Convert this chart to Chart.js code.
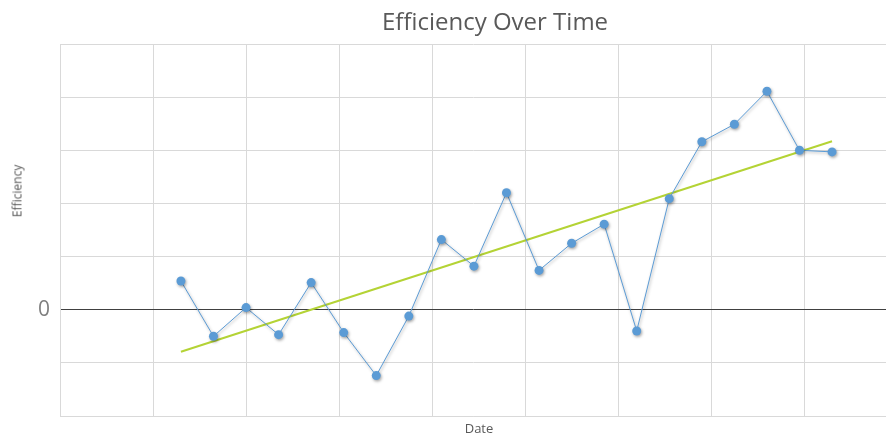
<!DOCTYPE html>
<html>
<head>
<meta charset="utf-8">
<script src="https://cdn.jsdelivr.net/npm/chart.js@4.4.1/dist/chart.umd.min.js"></script>
<style>
  html, body { margin: 0; padding: 0; background: #fff; overflow: hidden; }
  #wrap { position: relative; width: 886px; height: 438px; font-family: 'Open Sans', sans-serif; color: #595959; }
  #chart { display: block; }
  #title { position: absolute; left: 495px; top: 4px; transform: translateX(-50%); font-size: 24px; white-space: nowrap; }
  #ytitle { position: absolute; left: 17px; top: 191px; transform: translate(-50%, -50%) rotate(-90deg); font-size: 12px; white-space: nowrap; }
  #xtitle { position: absolute; left: 479px; top: 428px; transform: translate(-50%, -50%); font-size: 13px; white-space: nowrap; }
</style>
</head>
<body>
<div id="wrap">
  <canvas id="chart" width="886" height="438"></canvas>
  <div id="title">Efficiency Over Time</div>
  <div id="ytitle">Efficiency</div>
  <div id="xtitle">Date</div>
</div>
<script>
// days since axis start, one point a week
const dayX = [26, 33, 40, 47, 54, 61, 68, 75, 82, 89, 96, 103, 110, 117, 124, 131, 138, 145, 152, 159, 166]
const efficiency = [0.54, -0.50, 0.04, -0.47, 0.51, -0.43, -1.24, -0.12, 1.32, 0.82, 2.20, 0.74, 1.25, 1.61, -0.40, 2.09, 3.16, 3.49, 4.11, 3.00, 2.97]
// trend line ends
const trendX = [26, 166]
const trendY = [-0.79, 3.17]

const pointShadow = {
  id: 'pointShadow',
  beforeDatasetDraw(chart, args) {
    if (args.index !== 0) return
    const ctx = chart.ctx
    ctx.save()
    ctx.shadowColor = 'rgba(0,0,0,0.35)'
    ctx.shadowBlur = 3
    ctx.shadowOffsetX = 1
    ctx.shadowOffsetY = 1.5
  },
  afterDatasetDraw(chart, args) {
    if (args.index !== 0) return
    chart.ctx.restore()
  }
}

new Chart(document.getElementById('chart'), {
  type: 'scatter',
  data: {
    datasets: [{
      data: dayX.map((x, i) => ({ x: x, y: efficiency[i] })),
      showLine: true,
      borderColor: '#5b9bd5',
      backgroundColor: '#5b9bd5',
      borderWidth: 1,
      pointRadius: 4.5,
      pointBorderWidth: 0
    }, {
      data: trendX.map((x, i) => ({ x: x, y: trendY[i] })),
      showLine: true,
      borderColor: '#b4d335',
      borderWidth: 2,
      pointRadius: 0
    }]
  },
  options: {
    responsive: false,
    animation: false,
    layout: { autoPadding: false, padding: { top: 44, right: 0, bottom: 0, left: 0 } },
    plugins: { legend: { display: false }, tooltip: { enabled: false } },
    scales: {
      x: {
        type: 'linear',
        min: 0,
        max: 177.6,
        ticks: { stepSize: 20, display: false, includeBounds: false },
        grid: { color: '#d9d9d9', drawTicks: false },
        border: { color: '#d9d9d9' },
        afterFit(scale) {
          scale.height = 22
          scale.paddingLeft = 0
          scale.paddingRight = 0
        }
      },
      y: {
        min: -2,
        max: 5,
        ticks: {
          stepSize: 1,
          padding: 10,
          color: '#7f7f7f',
          font: { family: 'Open Sans', size: 21 },
          callback: v => v === 0 ? '0' : ''
        },
        grid: {
          drawTicks: false,
          color: ctx => ctx.tick && ctx.tick.value === 0 ? '#404040' : '#d9d9d9'
        },
        border: { color: '#d9d9d9' },
        afterFit(scale) {
          scale.width = 60
          scale.paddingTop = 0
          scale.paddingBottom = 0
        }
      }
    }
  },
  plugins: [pointShadow]
})
</script>
</body>
</html>
